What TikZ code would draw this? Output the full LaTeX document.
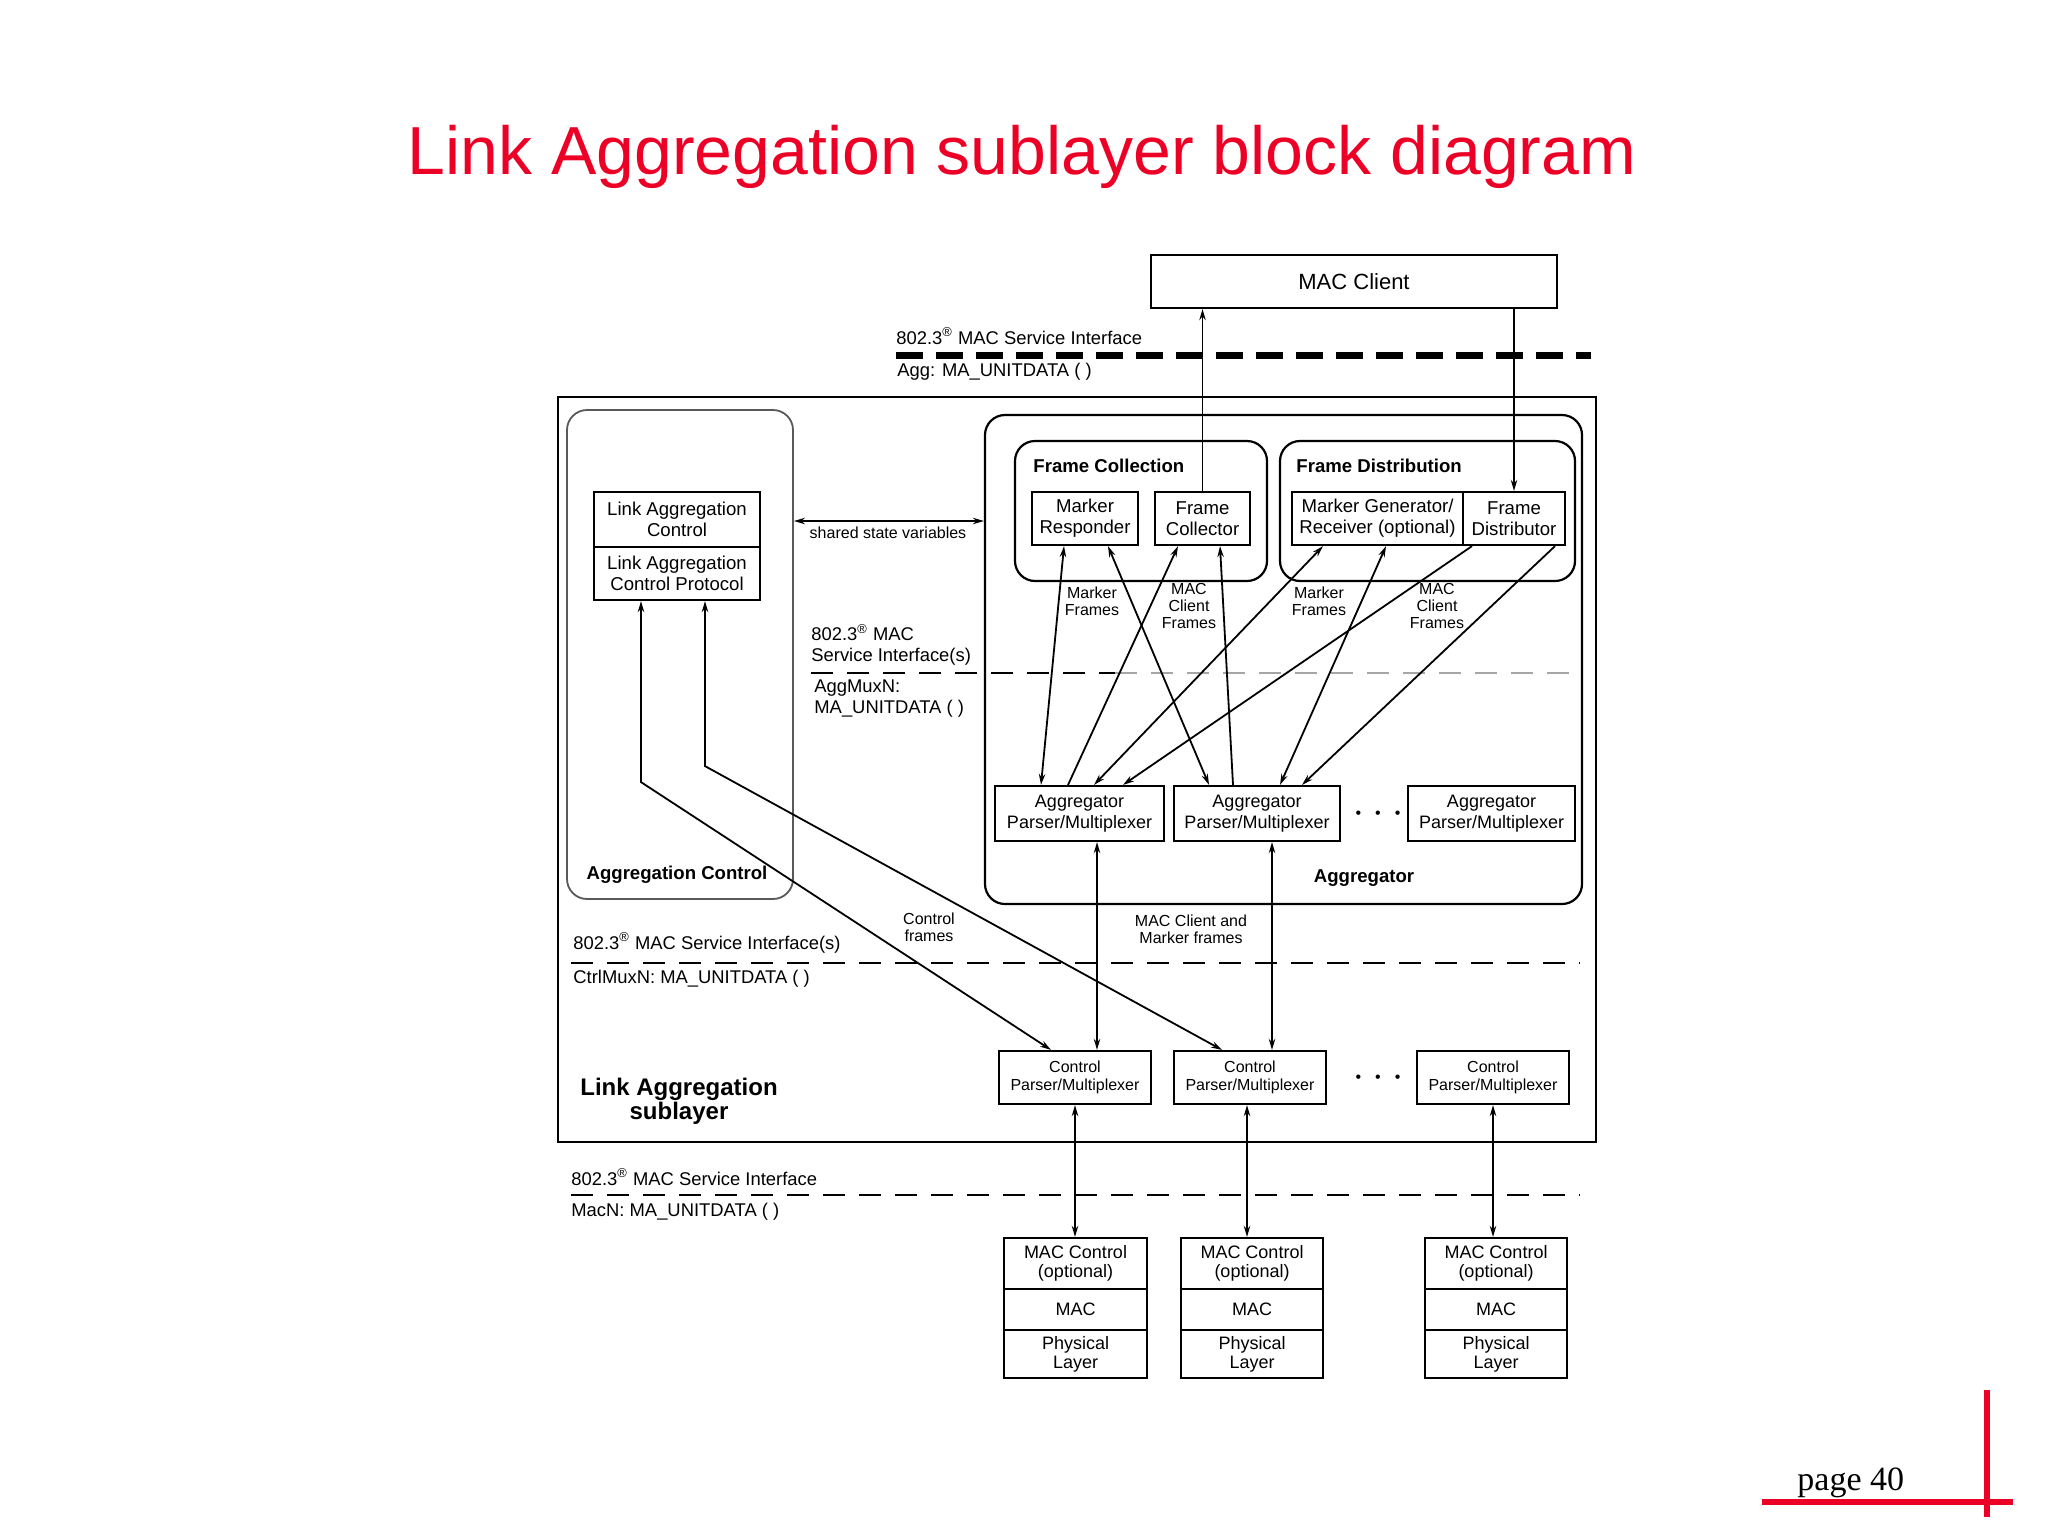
\documentclass[tikz,border=0pt]{standalone}
\usepackage{fontspec}
\setmainfont{Liberation Sans}
\newfontfamily\pagefont{Liberation Serif}
\usetikzlibrary{arrows.meta,calc}
\definecolor{titlered}{RGB}{237,0,38}
\newcommand\fs[2]{\fontsize{#1}{#2}\selectfont}
\begin{document}
\begin{tikzpicture}[x=0.5pt,y=-0.5pt,
  >={Stealth[length=5.5pt,width=3.2pt]},
  sz/.style 2 args={minimum width=#1pt, minimum height=#2pt},
  box/.style={draw, line width=1.1pt, inner sep=0pt, align=center},
  rbox/.style={draw, line width=1.1pt, rounded corners=10pt, inner sep=0pt},
  conn/.style={line width=0.9pt},
  sepline/.style={line width=1.1pt, dash pattern=on 11pt off 7pt},
  lbl/.style={inner sep=0pt, align=left, anchor=west, font=\fs{9.2}{10.5}},
  small/.style={inner sep=0pt, align=center, font=\fs{8}{8.4}},
  btitle/.style={inner sep=0pt, font=\bfseries\fs{9.3}{11}},
  apbox/.style={box, font=\fs{9}{10.5}},
  cpbox/.style={box, font=\fs{8}{9}},
  stbox/.style={box, font=\fs{9}{9.5}},
  inbox/.style={box, font=\fs{9.3}{10.5}},
  redline/.style={draw=titlered, line width=3pt}
]
\useasboundingbox (0,0) rectangle (2048,1536);
\fill[white] (0,0) rectangle (2048,1536);

% title
\node[font=\fs{34}{40}, text=titlered, anchor=base, inner sep=0pt] (title) at (1022,174) {Link Aggregation sublayer block diagram};

% footer
\draw[redline] (1762,1502) -- (2013,1502);
\draw[redline] (1987,1390) -- (1987,1517);
\node[anchor=base west, inner sep=0pt, font=\pagefont\fs{17}{20}] (page) at (1797,1490) {page 40};

% MAC client and top interface
\node[box, sz={203}{26.5}, font=\fs{11}{13}] (mc) at (1354,281.5) {MAC Client};
\draw[line width=3.5pt, dash pattern=on 13.5pt off 6.5pt] (896,355) -- (1591,355);
\node[lbl] (si0) at (896,336) {802.3\textsuperscript{®} MAC Service Interface};
\node[lbl] (agg0) at (897,372) {Agg: MA\_UNITDATA ( )};

% big containers
\node[box, line width=1.3pt, sz={519}{372.5}] (sub) at (1077,769.5) {};
\node[rbox, draw=black!65, line width=0.9pt, sz={113}{244.5}] (aggctl) at (680,654.5) {};
\node[rbox, sz={298.5}{244.5}] (aggr) at (1283.5,659.5) {};
\node[rbox, sz={126}{70}] (fcoll) at (1141,511) {};
\node[rbox, sz={147.5}{70}] (fdist) at (1427.5,511) {};

\node[btitle, anchor=west] (fctitle) at (1033,466) {Frame Collection};
\node[btitle, anchor=west] (fdtitle) at (1296,466) {Frame Distribution};
\node[btitle] (actitle) at (677,875) {Aggregation Control};
\node[btitle] (agtitle) at (1364,878) {Aggregator};
\node[inner sep=0pt, align=center, font=\bfseries\fs{12}{12}] (subtitle) at (679,1101) {Link Aggregation\\sublayer};

% link aggregation control
\node[inbox, sz={83}{27.5}] (lac) at (677,519.5) {Link Aggregation\\Control};
\node[inbox, sz={83}{26.5}] (lacp) at (677,573.5) {Link Aggregation\\Control Protocol};

% frame collection / distribution
\node[inbox, sz={53}{26.5}] (mr) at (1085,518.5) {Marker\\Responder};
\node[inbox, sz={47.5}{26.5}] (fc) at (1202.5,518.5) {Frame\\Collector};
\node[inbox, sz={85.5}{26.5}] (mg) at (1377.5,518.5) {Marker Generator/\\Receiver (optional)};
\node[inbox, sz={51}{26.5}] (fd) at (1514,518.5) {Frame\\Distributor};

% aggregator parsers
\node[apbox, sz={84.5}{27.5}] (ap1) at (1079.5,813.5) {Aggregator\\Parser/Multiplexer};
\node[apbox, sz={83}{27.5}] (ap2) at (1257,813.5) {Aggregator\\Parser/Multiplexer};
\node[apbox, sz={83.5}{27.5}] (ap3) at (1491.5,813.5) {Aggregator\\Parser/Multiplexer};
\node[inner sep=0pt, font=\fs{8}{8}] (dots1) at (1378,815) {•\hspace{7pt}•\hspace{7pt}•};

% control parsers
\node[cpbox, sz={76}{26.5}] (cp1) at (1075,1077.5) {Control\\Parser/Multiplexer};
\node[cpbox, sz={76}{26.5}] (cp2) at (1250,1077.5) {Control\\Parser/Multiplexer};
\node[cpbox, sz={76}{26.5}] (cp3) at (1493,1077.5) {Control\\Parser/Multiplexer};
\node[inner sep=0pt, font=\fs{8}{8}] (dots2) at (1378,1079) {•\hspace{7pt}•\hspace{7pt}•};

% MAC stacks
\node[stbox, sz={71.5}{25.5}] (s1a) at (1075.5,1263.5) {MAC Control\\(optional)};
\node[stbox, sz={71.5}{20.5}] (s1b) at (1075.5,1309.5) {MAC};
\node[stbox, sz={71.5}{24}] (s1c) at (1075.5,1354) {Physical\\Layer};
\node[stbox, sz={71}{25.5}] (s2a) at (1252,1263.5) {MAC Control\\(optional)};
\node[stbox, sz={71}{20.5}] (s2b) at (1252,1309.5) {MAC};
\node[stbox, sz={71}{24}] (s2c) at (1252,1354) {Physical\\Layer};
\node[stbox, sz={71}{25.5}] (s3a) at (1496,1263.5) {MAC Control\\(optional)};
\node[stbox, sz={71}{20.5}] (s3b) at (1496,1309.5) {MAC};
\node[stbox, sz={71}{24}] (s3c) at (1496,1354) {Physical\\Layer};

% separator lines and their labels
\draw[sepline] (811,673) -- (1115,673);
\draw[sepline, draw=black!35] (1115,673) -- (1580,673);
\node[lbl] (si1) at (811,645) {802.3\textsuperscript{®} MAC\\Service Interface(s)};
\node[lbl] (agm) at (814,699) {AggMuxN:\\MA\_UNITDATA ( )};
\draw[sepline] (571,963) -- (1580,963);
\node[lbl] (si2) at (573,943) {802.3\textsuperscript{®} MAC Service Interface(s)};
\node[lbl] (ctm) at (573,979) {CtrlMuxN: MA\_UNITDATA ( )};
\draw[sepline] (571,1195) -- (1580,1195);
\node[lbl] (si3) at (571,1177) {802.3\textsuperscript{®} MAC Service Interface};
\node[lbl] (macn) at (571,1212) {MacN: MA\_UNITDATA ( )};

% small labels
\node[small] (ssv) at (888,533) {shared state variables};
\node[small] (mf1) at (1092,601) {Marker\\Frames};
\node[small] (cf1) at (1189,606) {MAC\\Client\\Frames};
\node[small] (mf2) at (1319,601) {Marker\\Frames};
\node[small] (cf2) at (1437,606) {MAC\\Client\\Frames};
\node[small] (ctf) at (929,927) {Control\\frames};
\node[small] (mcmf) at (1191,929) {MAC Client and\\Marker frames};

% connectors
\draw[conn,->] (fc.north) -- (fc.north |- mc.south);
\draw[conn,->] (fd.north |- mc.south) -- (fd.north);
\draw[conn,<->] ([yshift=66.75pt]aggctl.east) -- ([yshift=69.25pt]aggr.west);

\draw[conn,<->] ([xshift=-18pt]lacp.south) -- ++(0,181) -- ([xshift=-12pt]cp1.north);
\draw[conn,<->] ([xshift=14pt]lacp.south) -- ++(0,165) -- ([xshift=-14pt]cp2.north);

\draw[conn,<->] ([xshift=-10.5pt]mr.south) -- ([xshift=-19.25pt]ap1.north);
\draw[conn,<->] ([xshift=11.5pt]mr.south) -- ([xshift=-24pt]ap2.north);
\draw[conn,->] ([xshift=-5.75pt]ap1.north) -- ([xshift=-12.25pt]fc.south);
\draw[conn,->] ([xshift=-12pt]ap2.north) -- ([xshift=8.75pt]fc.south);
\draw[conn,<->] ([xshift=-27.25pt]mg.south) -- ([xshift=7.25pt]ap1.north);
\draw[conn,->] ([xshift=-21pt]fd.south) -- ([xshift=21.75pt]ap1.north);
\draw[conn,<->] ([xshift=4.25pt]mg.south) -- ([xshift=11.5pt]ap2.north);
\draw[conn,->] ([xshift=20.5pt]fd.south) -- ([xshift=22.5pt]ap2.north);

\draw[conn,<->] ([xshift=8.75pt]ap1.south) -- ([xshift=11pt]cp1.north);
\draw[conn,<->] ([xshift=7.5pt]ap2.south) -- ([xshift=11pt]cp2.north);

\draw[conn,<->] (cp1.south) -- (cp1.south |- s1a.north);
\draw[conn,<->] ([xshift=-1.5pt]cp2.south) -- ([xshift=-1.5pt]cp2.south |- s2a.north);
\draw[conn,<->] (cp3.south) -- (cp3.south |- s3a.north);
\end{tikzpicture}
\end{document}
